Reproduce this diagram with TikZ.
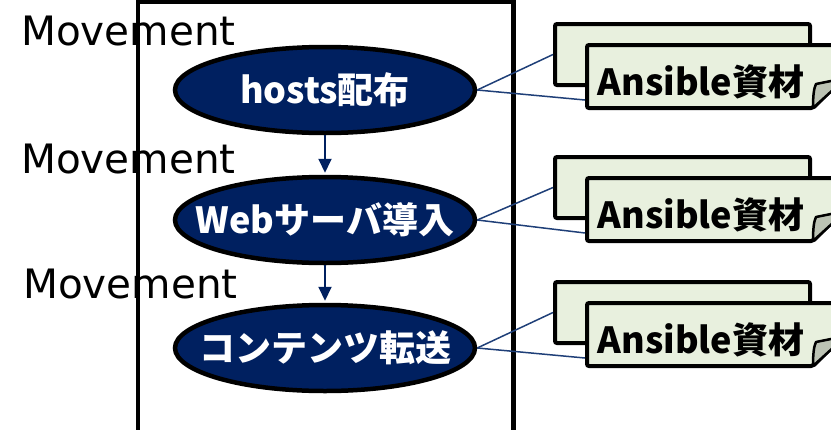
\documentclass[tikz,border=0pt]{standalone}
\usepackage{fontspec}
\setmainfont{DejaVu Sans}
\newfontfamily\jp{Noto Sans CJK JP}
\usetikzlibrary{shapes.geometric,arrows.meta}
\definecolor{navy}{HTML}{002060}
\definecolor{lnavy}{HTML}{1F3F78}
\definecolor{boxgreen}{HTML}{E8F0DE}
\definecolor{foldgray}{HTML}{BCC3B4}
\tikzset{
  ellbox/.style={ellipse, draw=black, fill=navy, line width=4.5pt, minimum width=300pt, minimum height=86pt, inner sep=0pt},
  elltext/.style={text=white, font=\jp\bfseries\fontsize{36}{36}\selectfont, inner sep=0pt},
  mvtext/.style={anchor=base west, inner sep=0pt, font=\fontsize{40.5}{40.5}\selectfont},
  flowarr/.style={draw=navy, line width=2pt, -{Triangle[width=13pt,length=14pt]}, shorten >=2pt},
  conn/.style={draw=lnavy, line width=1.5pt},
  backbox/.style={rectangle, draw=black, fill=boxgreen, line width=4pt, rounded corners=2pt, minimum width=255pt, minimum height=61pt, inner sep=0pt},
  frontbox/.style={draw=black, fill=boxgreen, line width=4pt, rounded corners=2pt},
  foldshape/.style={draw=black, fill=foldgray, line width=2.5pt, line join=round},
  boxtext/.style={text=black, font=\jp\bfseries\fontsize{36}{36}\selectfont, inner sep=0pt},
}
\begin{document}
\begin{tikzpicture}[x=1pt,y=-1pt]
\useasboundingbox (0,0) rectangle (831,429);
% main frame
\draw[line width=4.5pt] (138,440) -- (138,1.5) -- (513.5,1.5) -- (513.5,440);
% ellipses
\node[ellbox] (e1) at (325,90) {};
\node[ellbox] (e2) at (325,220) {};
\node[ellbox] (e3) at (325,348) {};
\node[elltext] (t1) at (e1) {hosts配布};
\node[elltext] (t2) at (e2) {Webサーバ導入};
\node[elltext] (t3) at (e3) {コンテンツ転送};
\draw[flowarr] (e1.south) -- (e2.north);
\draw[flowarr] (e2.south) -- (e3.north);
% Movement labels
\node[mvtext] (m1) at (21,45) {Movement};
\node[mvtext] (m2) at (21,173) {Movement};
\node[mvtext] (m3) at (23,298) {Movement};
% resource groups
\foreach \g/\oy in {1/0, 2/133, 3/258}{
  \node[backbox] (b\g) at (682.5,54.5+\oy) {};
  \draw[frontbox] (587,45+\oy) -- (846,45+\oy) -- (846,75+\oy) -- (813,108+\oy) -- (587,108+\oy) -- cycle;
  \coordinate (f\g) at (585,100+\oy);
  \draw[foldshape] (813,108+\oy) .. controls (813,95+\oy) and (814,88+\oy) .. (816,84+\oy) -- (846,78+\oy) -- cycle;
  \node[boxtext] (a\g) at (701,81.5+\oy) {Ansible資材};
  \draw[conn] (e\g.east) -- (b\g.west);
  \draw[conn] (e\g.east) -- (f\g);
}
\end{tikzpicture}
\end{document}
